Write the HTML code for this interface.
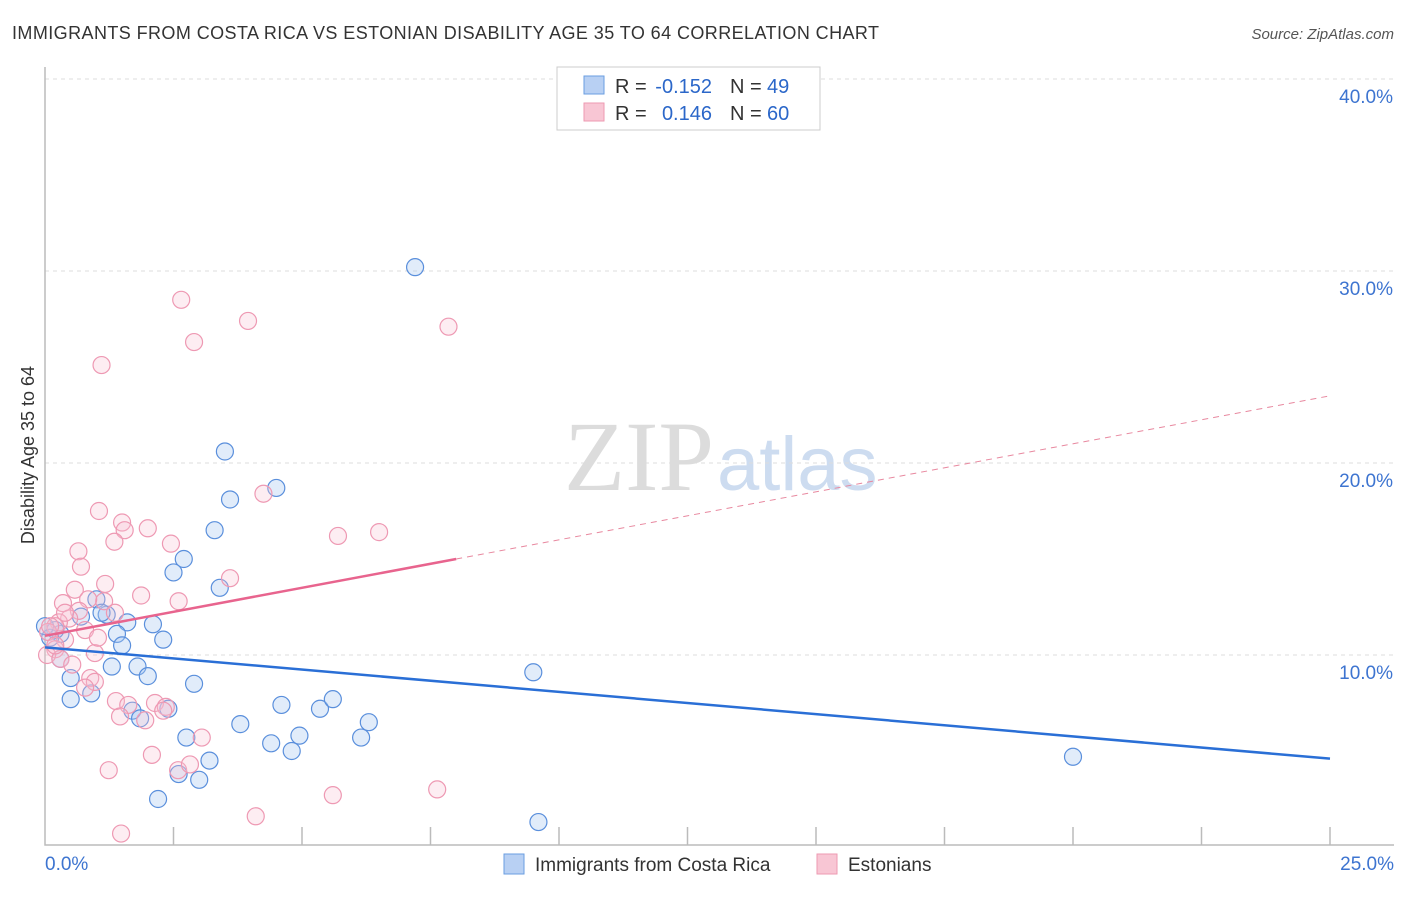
<!DOCTYPE html>
<html><head><meta charset="utf-8"><style>
body{margin:0;background:#fff;font-family:"Liberation Sans",sans-serif}
</style></head><body>
<svg id="chart" width="1406" height="892" xmlns="http://www.w3.org/2000/svg">
<text x="12" y="39" font-size="18" fill="#333" textLength="867" lengthAdjust="spacing">IMMIGRANTS FROM COSTA RICA VS ESTONIAN DISABILITY AGE 35 TO 64 CORRELATION CHART</text>
<text x="1394" y="39" font-size="15" fill="#555" font-style="italic" text-anchor="end">Source: ZipAtlas.com</text>
<text x="714" y="490" font-size="100" fill="#dcdcdc" font-family="Liberation Serif" text-anchor="end">ZIP</text>
<text x="717" y="490" font-size="76" fill="#cddcf0">atlas</text>
<text transform="translate(34,455) rotate(-90)" font-size="18" fill="#333" text-anchor="middle">Disability Age 35 to 64</text>
<g id="grid"></g><g id="axes"></g><g id="marks"></g>
<g>
<rect x="557" y="67" width="263" height="63" fill="#fff" stroke="#ccc"/>
<rect x="584" y="76" width="20" height="18" fill="#b8d0f3" stroke="#6a9ee0"/>
<rect x="584" y="103" width="20" height="18" fill="#f8c6d4" stroke="#ee9ab2"/>
<text x="615" y="93" font-size="20" fill="#333">R =</text>
<text x="712" y="93" font-size="20" fill="#2b67c9" text-anchor="end">-0.152</text>
<text x="730" y="93" font-size="20" fill="#333">N =</text>
<text x="767" y="93" font-size="20" fill="#2b67c9">49</text>
<text x="615" y="120" font-size="20" fill="#333">R =</text>
<text x="712" y="120" font-size="20" fill="#2b67c9" text-anchor="end">0.146</text>
<text x="730" y="120" font-size="20" fill="#333">N =</text>
<text x="767" y="120" font-size="20" fill="#2b67c9">60</text>
</g>
<g>
<rect x="504" y="854" width="20" height="20" fill="#b8d0f3" stroke="#6a9ee0"/>
<text x="535" y="871" font-size="19" fill="#333">Immigrants from Costa Rica</text>
<rect x="817" y="854" width="20" height="20" fill="#f8c6d4" stroke="#ee9ab2"/>
<text x="848" y="871" font-size="19" fill="#333">Estonians</text>
</g>
</svg>
<script>
const yTicks=[10,20,30,40];
const yTickLabels=["10.0%","20.0%","30.0%","40.0%"];
const xTickLabels=["0.0%","25.0%"];
const blueX=[7.2,3.5,4.5,3.6,3.3,2.7,2.5,3.4,1.0,1.2,1.1,1.6,2.1,1.4,0.7,2.3,1.5,0.3,0.2,0.1,1.8,1.3,2.0,0.5,0.9,2.9,1.7,1.85,2.4,4.6,5.35,5.6,6.3,3.8,6.15,4.95,2.75,4.4,4.8,3.2,2.6,3.0,2.2,9.6,9.5,20.0,0.0,0.3,0.5];
const blueY=[30.2,20.6,18.7,18.1,16.5,15.0,14.3,13.5,12.9,12.1,12.2,11.7,11.6,11.1,12.0,10.8,10.5,11.1,11.3,10.9,9.4,9.4,8.9,8.8,8.0,8.5,7.1,6.7,7.2,7.4,7.2,7.7,6.5,6.4,5.7,5.8,5.7,5.4,5.0,4.5,3.8,3.5,2.5,1.3,9.1,4.7,11.5,9.8,7.7];
const pinkX=[2.65,3.95,2.9,7.85,1.1,4.25,1.05,1.5,1.55,2.0,1.35,0.65,2.45,5.7,6.5,0.7,3.6,1.17,0.58,1.87,2.6,1.15,0.35,0.84,0.66,0.47,0.27,0.2,0.06,0.78,0.39,0.2,0.04,0.3,0.53,0.97,0.88,0.97,0.78,1.38,1.62,2.14,2.35,2.3,1.95,3.05,2.08,1.24,2.59,2.82,5.6,7.63,4.1,1.48,0.2,0.1,0.39,1.46,1.03,1.36];
const pinkY=[28.5,27.4,26.3,27.1,25.1,18.4,17.5,16.9,16.5,16.6,15.9,15.4,15.8,16.2,16.4,14.6,14.0,13.7,13.4,13.1,12.8,12.8,12.7,12.9,12.3,11.9,11.7,11.5,11.2,11.3,10.8,10.3,10.0,9.8,9.5,10.1,8.8,8.6,8.3,7.6,7.4,7.5,7.3,7.1,6.6,5.7,4.8,4.0,4.0,4.3,2.7,3.0,1.6,0.7,10.5,11.5,12.2,6.8,10.9,12.2];
const blueLine=[10.4,4.6];
const pinkLine=[11.0,23.5];
const pinkSolidEnd=8;
const X0=45,X1=1330,Y0=847,PXY=19.2;
const xs=v=>X0+v*(X1-X0)/25, ys=v=>Y0-v*PXY;
const NS="http://www.w3.org/2000/svg";
function mk(p,t,a){const e=document.createElementNS(NS,t);for(const k in a)e.setAttribute(k,a[k]);document.getElementById(p).appendChild(e);return e;}
yTicks.forEach((t,i)=>{
 const g=mk('grid','line',{x1:45,x2:1394,y1:ys(t),y2:ys(t),stroke:'#ddd','stroke-dasharray':'4,4'});
 
 
 const l=mk('axes','text',{x:1393,y:ys(t)+24,'font-size':19,fill:'#3d74d0','text-anchor':'end'});l.textContent=yTickLabels[i];
 
 
});
const tg=mk('grid','line',{x1:45,x2:1394,y1:79,y2:79,stroke:'#ddd','stroke-dasharray':'4,4'});


const ax=mk('axes','path',{d:`M45,67V845H1394`,fill:'none',stroke:'#bbb','stroke-width':1.5});


for(let i=1;i<=10;i++){const t=mk('axes','line',{x1:xs(i*2.5),x2:xs(i*2.5),y1:827,y2:845,stroke:'#bbb','stroke-width':1.5});
 
 }
[[0,'start',45],[1,'end',1394]].forEach(([i,a,x])=>{const l=mk('axes','text',{x:x,y:870,'font-size':19,fill:'#3d74d0','text-anchor':a});l.textContent=xTickLabels[i];
 
 });
blueX.forEach((v,i)=>{const c=mk('marks','circle',{cx:xs(v),cy:ys(blueY[i]),r:8.5,fill:'rgba(170,200,240,0.35)',stroke:'#5a8fdc','stroke-width':1.2});
 
 });
pinkX.forEach((v,i)=>{const c=mk('marks','circle',{cx:xs(v),cy:ys(pinkY[i]),r:8.5,fill:'rgba(248,195,212,0.3)',stroke:'#ee99b3','stroke-width':1.2});
 
 });
const bl=mk('marks','line',{x1:xs(0),y1:ys(blueLine[0]),x2:xs(25),y2:ys(blueLine[1]),stroke:'#2a6fd6','stroke-width':2.5});


const pm=pinkLine[0]+(pinkLine[1]-pinkLine[0])*pinkSolidEnd/25;
const pl=mk('marks','line',{x1:xs(0),y1:ys(pinkLine[0]),x2:xs(pinkSolidEnd),y2:ys(pm),stroke:'#e8648e','stroke-width':2.5});


const pd=mk('marks','line',{x1:xs(pinkSolidEnd),y1:ys(pm),x2:xs(25),y2:ys(pinkLine[1]),stroke:'#e8889f','stroke-width':1,'stroke-dasharray':'6,5'});


</script>
</body></html>
